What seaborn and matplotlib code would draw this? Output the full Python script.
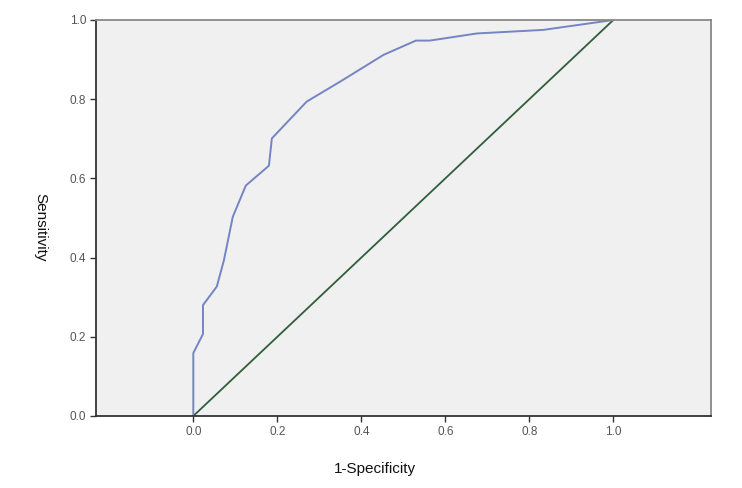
import numpy as np
import pandas as pd
import matplotlib
matplotlib.use("Agg")
import matplotlib.pyplot as plt
import seaborn as sns

# ROC curve points
fpr = [0.0, 0.0, 0.023, 0.023, 0.056, 0.073, 0.094, 0.125, 0.18, 0.187,
       0.27, 0.349, 0.453, 0.53, 0.563, 0.675, 0.833, 1.0]
tpr = [0.0, 0.159, 0.207, 0.28, 0.327, 0.394, 0.503, 0.582, 0.632, 0.701,
       0.794, 0.844, 0.912, 0.948, 0.948, 0.966, 0.975, 1.0]
ref_x = [0.0, 1.0]
ref_y = [0.0, 1.0]
ticks = [0.0, 0.2, 0.4, 0.6, 0.8, 1.0]
tick_labels = ["0.0", "0.2", "0.4", "0.6", "0.8", "1.0"]

sns.set_theme(style="white")
plt.rcParams['font.family'] = ['Liberation Sans', 'DejaVu Sans']

roc = pd.DataFrame({'fpr': fpr, 'tpr': tpr})
ref = pd.DataFrame({'x': ref_x, 'y': ref_y})

fig = plt.figure(figsize=(7.42, 4.88), dpi=100)
ax = fig.add_axes([96 / 742, 72 / 488, 615 / 742, 396 / 488])
ax.set_facecolor('#f0f0f0')

# reference diagonal, then the ROC curve on top
sns.lineplot(data=ref, x='x', y='y', ax=ax, color='#2f5e3c', linewidth=1.3,
             sort=False, estimator=None)
sns.lineplot(data=roc, x='fpr', y='tpr', ax=ax, color='#7484c4', linewidth=1.4,
             sort=False, estimator=None)

ax.set_xlim(-0.2317, 1.2326)
ax.set_ylim(0, 1)
ax.set_xticks(ticks)
ax.set_xticklabels(tick_labels)
ax.set_yticks(ticks)
ax.set_yticklabels(tick_labels)
ax.set_xlabel('')
ax.set_ylabel('')
ax.tick_params(axis='both', direction='out', length=4, width=1, color='#333333',
               labelsize=8.5, labelcolor='#555555', pad=3,
               bottom=True, left=True)

for side in ['left', 'bottom']:
    ax.spines[side].set_color('#333333')
    ax.spines[side].set_linewidth(1.3)
for side in ['top', 'right']:
    ax.spines[side].set_color('#888888')
    ax.spines[side].set_linewidth(1.3)

fig.text(375 / 742, 1 - 469 / 488, '1-Specificity', ha='center', va='center',
         fontsize=11, color='#111111')
fig.text(40 / 742, 1 - 227 / 488, 'Sensitivity', ha='center', va='center',
         rotation=-90, fontsize=11, color='#111111')

fig.savefig('out.png', dpi=100)
